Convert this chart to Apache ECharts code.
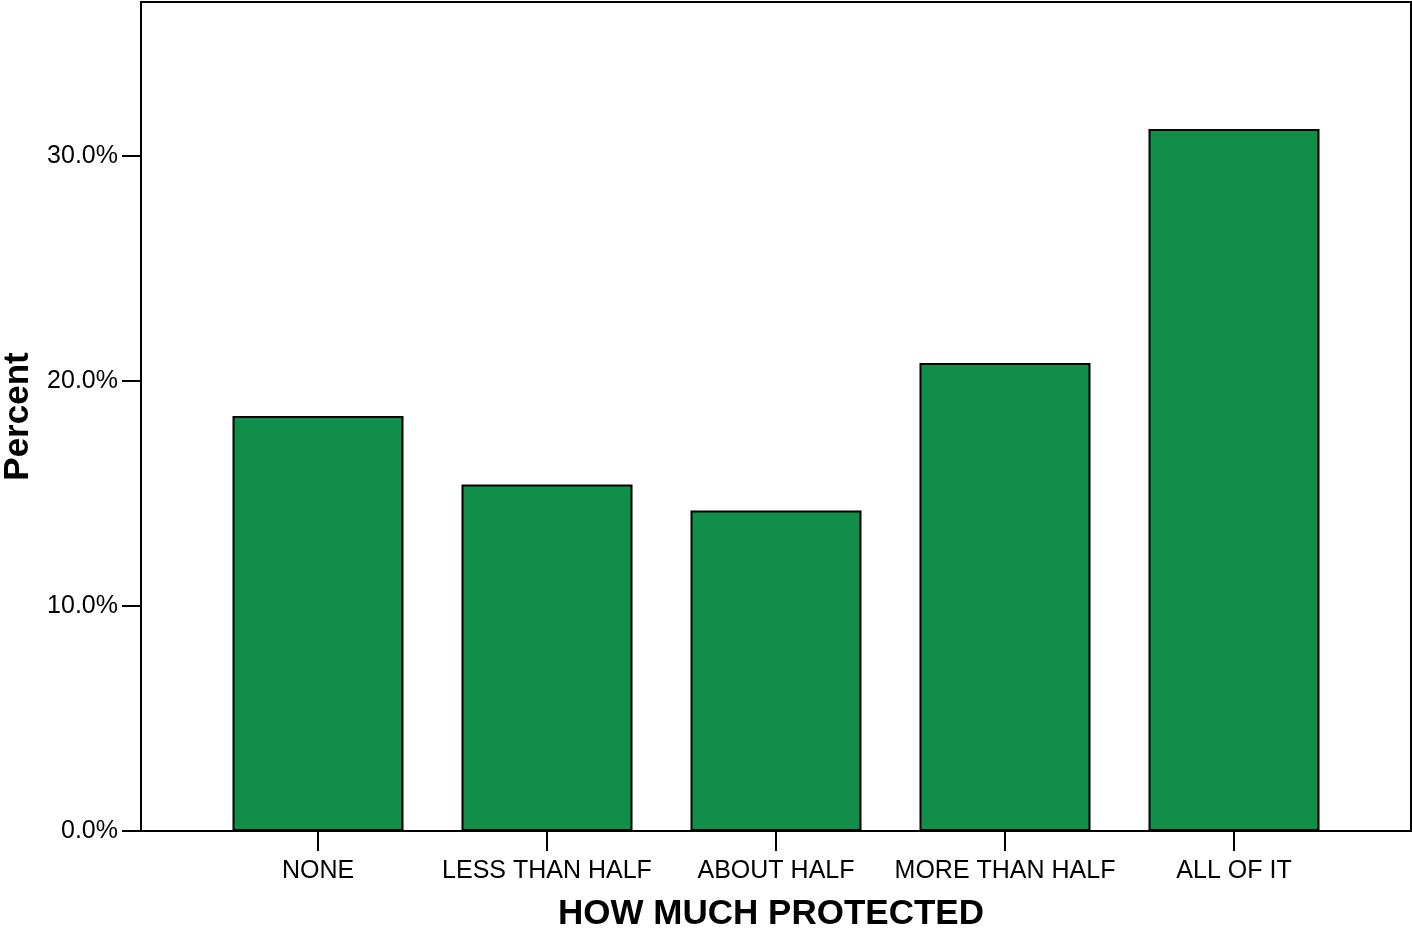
<!DOCTYPE html>
<html><head><meta charset="utf-8">
<script src="https://cdn.jsdelivr.net/npm/echarts@6/dist/echarts.min.js"></script>
<style>html,body{margin:0;padding:0;background:#fff}#c{width:1412px;height:928px}</style>
</head><body><div id="c"></div>
<script>
const categories = ["NONE", "LESS THAN HALF", "ABOUT HALF", "MORE THAN HALF", "ALL OF IT"];
const percentValues = [18.45, 15.4, 14.25, 20.8, 31.2];
const yTicks = [0, 10, 20, 30];
const yMax = 36.85;

const chart = echarts.init(document.getElementById('c'), null, {renderer: 'canvas'});
const font = '"Liberation Sans", Arial, sans-serif';
chart.setOption({
  animation: false,
  backgroundColor: '#fff',
  grid: [
    {left: 141, right: 1, top: 2, bottom: 97, show: true, borderColor: '#000', borderWidth: 2,
     backgroundColor: 'transparent', containLabel: false, outerBoundsMode: 'none'},
    {left: 203.5, right: 63.5, top: 2, bottom: 97, containLabel: false, outerBoundsMode: 'none'}
  ],
  xAxis: [
    {gridIndex: 0, type: 'value', min: 0, max: 1, show: false},
    {gridIndex: 1, type: 'category', data: categories,
     axisLine: {show: false},
     axisTick: {show: true, length: 20, lineStyle: {color: '#000', width: 2}, alignWithLabel: true},
     axisLabel: {color: '#000', fontSize: 25, fontFamily: font, margin: 28, interval: 0, hideOverlap: false},
     name: 'HOW MUCH PROTECTED', nameLocation: 'middle', nameGap: 66,
     nameTextStyle: {color: '#000', fontSize: 35, fontWeight: 'bold', fontFamily: font, padding: [0, 10, 0, 0]}
    }
  ],
  yAxis: [
    {gridIndex: 0, type: 'value', min: 0, max: yMax, interval: 10,
     axisLine: {show: true, lineStyle: {color: '#000', width: 2}},
     axisTick: {show: true, length: 19, customValues: yTicks, lineStyle: {color: '#000', width: 2}},
     splitLine: {show: false},
     axisLabel: {color: '#000', fontSize: 25, fontFamily: font, margin: 23, customValues: yTicks,
       formatter: v => v.toFixed(1) + '%'},
     name: 'Percent', nameLocation: 'middle', nameGap: 105, nameRotate: 90,
     nameTextStyle: {color: '#000', fontSize: 35, fontWeight: 'bold', fontFamily: font}
    },
    {gridIndex: 1, type: 'value', min: 0, max: yMax, show: false}
  ],
  series: [{
    type: 'bar', xAxisIndex: 1, yAxisIndex: 1, data: percentValues,
    barWidth: 171,
    itemStyle: {color: '#118E4A', borderColor: '#000', borderWidth: 2}
  }]
});
</script></body></html>
